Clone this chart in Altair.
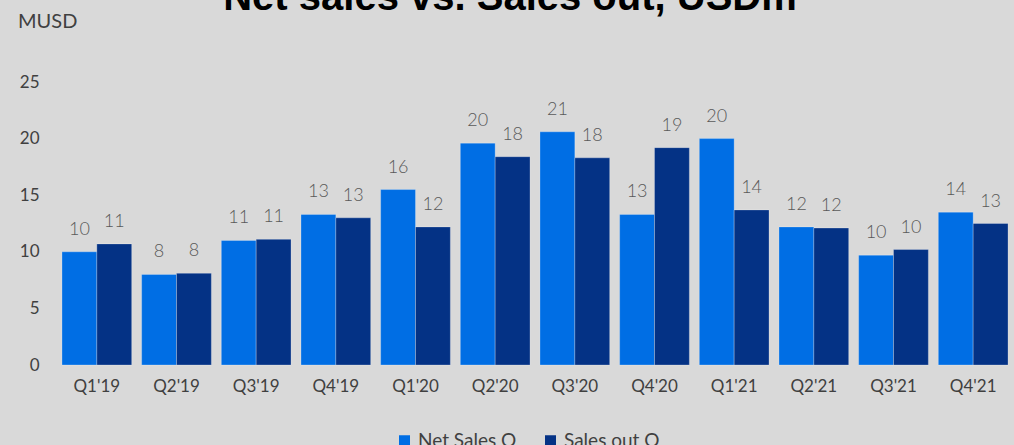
import altair as alt
import pandas as pd

quarters = ["Q1'19", "Q2'19", "Q3'19", "Q4'19", "Q1'20", "Q2'20", "Q3'20", "Q4'20",
            "Q1'21", "Q2'21", "Q3'21", "Q4'21"]
net_sales = [10.0, 8.0, 11.0, 13.3, 15.5, 19.6, 20.6, 13.3, 20.0, 12.2, 9.7, 13.5]
sales_out = [10.7, 8.1, 11.1, 13.0, 12.2, 18.4, 18.3, 19.2, 13.7, 12.1, 10.2, 12.5]
net_labels = ["10", "8", "11", "13", "16", "20", "21", "13", "20", "12", "10", "14"]
out_labels = ["11", "8", "11", "13", "12", "18", "18", "19", "14", "12", "10", "13"]
series_names = ["Net Sales Q", "Sales out Q"]
series_colors = ["#006EE4", "#043285"]
y_ticks = [0, 5, 10, 15, 20, 25]

rows = []
for i, q in enumerate(quarters):
    rows.append({"quarter": q, "series": series_names[0], "value": net_sales[i], "label": net_labels[i]})
    rows.append({"quarter": q, "series": series_names[1], "value": sales_out[i], "label": out_labels[i]})
df = pd.DataFrame(rows)

FONT = "Lato"
W, H = 956, 283

x_enc = alt.X("quarter:N", sort=quarters,
              scale=alt.Scale(paddingInner=0.125, paddingOuter=0.0625),
              axis=alt.Axis(title=None, labelAngle=0, domain=False, ticks=False,
                            labelFont=FONT, labelFontSize=17, labelColor="#404040",
                            labelPadding=13))
xoff = alt.XOffset("series:N", sort=series_names,
                   scale=alt.Scale(paddingInner=0, paddingOuter=0))
y_enc = alt.Y("value:Q", scale=alt.Scale(domain=[0, 25], nice=False),
              axis=alt.Axis(title=None, values=y_ticks, grid=False, domain=False, ticks=False,
                            labelFont=FONT, labelFontSize=17, labelColor="#404040",
                            labelPadding=18))

bars = alt.Chart(df).mark_bar(stroke="white", strokeOpacity=0.25, strokeWidth=1).encode(
    x=x_enc, xOffset=xoff, y=y_enc,
    color=alt.Color("series:N", sort=series_names,
                    scale=alt.Scale(domain=series_names, range=series_colors),
                    legend=alt.Legend(title=None, orient="none", direction="horizontal",
                                      legendX=338, legendY=349, symbolType="square",
                                      symbolSize=121, symbolStrokeWidth=0,
                                      labelFont=FONT, labelFontSize=19, labelColor="#404040",
                                      columnPadding=24, labelOffset=4)),
)

labels = alt.Chart(df).mark_text(font=FONT, fontSize=18, fontWeight=300, color="#595959", dy=-17,
                                 baseline="alphabetic").encode(
    x=alt.X("quarter:N", sort=quarters), xOffset=alt.XOffset("series:N", sort=series_names),
    y="value:Q", text="label:N")

title_df = pd.DataFrame({"t": ["Net sales vs. Sales out, USDm"]})
title = alt.Chart(title_df).mark_text(font="Liberation Sans", fontWeight="bold", fontSize=40,
                                      color="#000000", align="center", baseline="alphabetic").encode(
    x=alt.value(453), y=alt.value(-72), text="t:N")

unit_df = pd.DataFrame({"t": ["MUSD"]})
unit = alt.Chart(unit_df).mark_text(font=FONT, fontSize=20, color="#404040", align="left",
                                    baseline="alphabetic").encode(
    x=alt.value(-39), y=alt.value(-54), text="t:N")

chart = alt.layer(bars, labels, title, unit).properties(
    width=W, height=H,
    autosize=alt.AutoSizeParams(type="none"),
    padding={"left": 57, "top": 82, "right": 1, "bottom": 80},
    background="#D9D9D9",
).configure_view(stroke=None)

chart.save("out.html", embed_options={"renderer": "svg", "actions": False})
